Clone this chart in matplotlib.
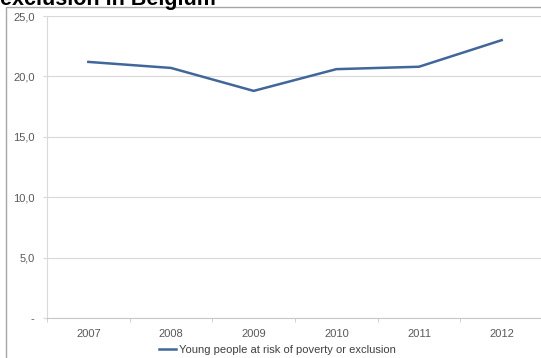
import matplotlib.pyplot as plt
from matplotlib.patches import Rectangle

# Young people at risk of poverty or exclusion in Belgium (%)
years = ["2007", "2008", "2009", "2010", "2011", "2012"]
risk = [21.2, 20.7, 18.8, 20.6, 20.8, 23.0]
yticks = [0, 5, 10, 15, 20, 25]
ytick_labels = ["-", "5,0", "10,0", "15,0", "20,0", "25,0"]

W, H = 541, 358
fig = plt.figure(figsize=(W / 100, H / 100), dpi=100)
plt.rcParams['font.family'] = ['Liberation Sans', 'DejaVu Sans']

# chart frame (partly off the image)
fig.patches.append(Rectangle((6 / W, -0.1), 1.2, (H - 7) / H + 0.1,
                             transform=fig.transFigure, fill=False,
                             edgecolor='#a6a6a6', linewidth=1.0))

# title, cut at the top edge as in the source
fig.text(0 / W, 1 - 5 / H, "exclusion in Belgium", fontsize=15.5,
         fontweight='bold', ha='left', va='baseline', color='black')

ax = fig.add_axes([47 / W, 40 / H, 496 / W, 302 / H])
x = list(range(len(years)))
line, = ax.plot(x, risk, color='#41679a', linewidth=1.8,
                label="Young people at risk of poverty or exclusion")

ax.set_xlim(-0.5, 5.5)
ax.set_ylim(0, 25)
ax.set_yticks(yticks)
ax.set_yticklabels(ytick_labels)
ax.set_xticks(x)
ax.set_xticklabels(years)
ax.set_xticks([i + 0.5 for i in range(-1, 6)], minor=True)

ax.grid(axis='y', color='#d9d9d9', linewidth=0.8)
ax.set_axisbelow(True)
for s in ['top', 'right']:
    ax.spines[s].set_visible(False)
ax.spines['left'].set_color('#d9d9d9')
ax.spines['bottom'].set_color('#c8c8c8')
ax.spines['left'].set_linewidth(0.8)
ax.spines['bottom'].set_linewidth(0.8)

ax.tick_params(axis='y', length=3, color='#d9d9d9', labelsize=8,
               labelcolor='#595959', pad=6)
ax.tick_params(axis='x', which='major', length=0, labelsize=8,
               labelcolor='#595959', pad=8)
ax.tick_params(axis='x', which='minor', length=3, color='#c8c8c8')

fig.legend(handles=[line], loc='center', bbox_to_anchor=(277 / W, 1 - 350 / H),
           frameon=False, fontsize=8, labelcolor='#404040',
           handlelength=1.6, handletextpad=0.2, borderpad=0)

fig.savefig("out.png", dpi=100)
